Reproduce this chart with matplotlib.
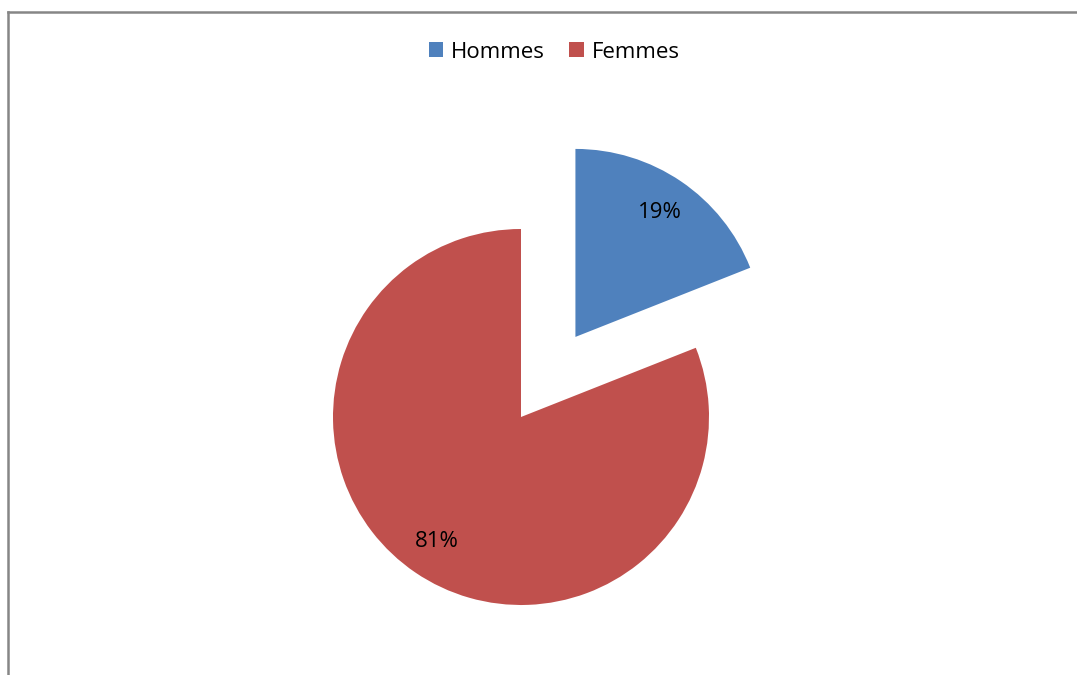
import matplotlib.pyplot as plt
from matplotlib.lines import Line2D
from matplotlib.patches import Patch

labels = ["Hommes", "Femmes"]
values = [19, 81]
colors = ["#4F81BD", "#C0504D"]

plt.rcParams['font.family'] = ['Open Sans', 'DejaVu Sans']

fig = plt.figure(figsize=(10.77, 6.75), dpi=100)
ax = fig.add_axes([0, 0, 1, 1])

radius = 188
# explode in pie() is absolute, so scale by the radius
explode = [0.515 * radius, 0]

wedges, texts, autotexts = ax.pie(values, colors=colors, explode=explode,
                                  startangle=90, counterclock=False,
                                  center=(521, 258), radius=radius,
                                  autopct="%d%%", pctdistance=0.8,
                                  textprops={"fontsize": 16, "color": "black"},
                                  frame=True)
ax.set_xlim(0, 1077)
ax.set_ylim(0, 675)
ax.set_aspect("equal")
ax.axis("off")

handles = [Patch(facecolor=c, edgecolor="none") for c in colors]
fig.legend(handles, labels, loc="center", bbox_to_anchor=(554 / 1077, 1 - 52 / 675),
           ncol=2, frameon=False, fontsize=16, handlelength=0.65, handleheight=0.65,
           handletextpad=0.35, columnspacing=1.1)

# chart border (left and top only visible)
fig.add_artist(Line2D([8 / 1077, 8 / 1077], [0, 1 - 12 / 675], color="#868686", lw=1.8))
fig.add_artist(Line2D([8 / 1077, 1], [1 - 12 / 675, 1 - 12 / 675], color="#868686", lw=1.8))

fig.savefig("out.png", dpi=100)
